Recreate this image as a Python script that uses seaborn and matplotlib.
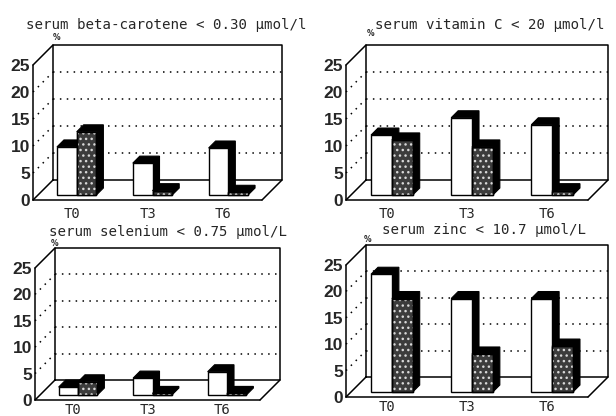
import matplotlib
matplotlib.use("Agg")
import matplotlib.pyplot as plt
from matplotlib import font_manager
from matplotlib.patches import Polygon, Rectangle
from matplotlib.lines import Line2D
import seaborn as sns
import pandas as pd

# ---- data -------------------------------------------------------------
times = ["T0", "T3", "T6"]
groups = ["A", "B"]
titles = [
    "serum beta-carotene < 0.30 \u03bcmol/l",
    "serum vitamin C < 20 \u03bcmol/l",
    "serum selenium < 0.75 \u03bcmol/L",
    "serum zinc < 10.7 \u03bcmol/L",
]
beta_carotene_a = [8.9, 5.9, 8.7]
beta_carotene_b = [11.7, 0.8, 0.5]
vitamin_c_a = [11.1, 14.3, 13.0]
vitamin_c_b = [10.2, 8.9, 0.8]
selenium_a = [1.5, 3.2, 4.4]
selenium_b = [2.5, 0.3, 0.3]
zinc_a = [22.3, 17.7, 17.7]
zinc_b = [17.7, 7.2, 8.7]
y_ticks = [0, 5, 10, 15, 20, 25]

panel_values = [
    (beta_carotene_a, beta_carotene_b),
    (vitamin_c_a, vitamin_c_b),
    (selenium_a, selenium_b),
    (zinc_a, zinc_b),
]

# ---- style ------------------------------------------------------------
sns.set_theme(style="white")
available = {f.name for f in font_manager.fontManager.ttflist}
tick_font = "Liberation Sans Narrow" if "Liberation Sans Narrow" in available else "Liberation Sans"
mono_font = "DejaVu Sans Mono"
plt.rcParams["font.family"] = [tick_font, "DejaVu Sans"]
plt.rcParams["hatch.linewidth"] = 1.0

W, H = 616, 416
fig = plt.figure(figsize=(W / 100, H / 100), dpi=100)

# front plane of each box in pixels: left, top, width, height
boxes = [(33, 65, 229, 135), (346, 65, 242, 135), (35, 268, 225, 132), (346, 265, 242, 132)]
title_pos = [(166, 25), (490, 25), (168, 232), (484, 230)]
pct_pos = [(57, 37), (371, 34), (55, 244), (368, 240)]
xtick_pad = [5, 5, 2, 2]

XLIM = (-0.51, 2.51)
DEPTH = 20      # px, depth of the box
SHIFT = 5       # px, bars stand a little behind the front plane
BAR_D = 7       # px, depth of each bar
colors = {"A": "white", "B": "#3c3c3c"}

for k, (vals_a, vals_b) in enumerate(panel_values):
    left, top, w, h = boxes[k]
    ax = fig.add_axes([left / W, 1 - (top + h) / H, w / W, h / H])
    df = pd.DataFrame({
        "time": times * 2,
        "group": [groups[0]] * 3 + [groups[1]] * 3,
        "value": list(vals_a) + list(vals_b),
    })
    sns.barplot(data=df, x="time", y="value", hue="group", order=times,
                hue_order=groups, palette=colors, edgecolor="black",
                linewidth=1.0, width=0.52, legend=False, ax=ax)
    ax.set_xlim(*XLIM)
    ax.set_ylim(y_ticks[0], y_ticks[-1])
    ux = (XLIM[1] - XLIM[0]) / w
    uy = (y_ticks[-1] - y_ticks[0]) / h
    x0, x1 = XLIM
    y0, y1 = y_ticks[0], y_ticks[-1]
    Dx, Dy = DEPTH * ux, DEPTH * uy

    # back wall, floor and side wall outline
    line_kw = dict(color="black", lw=1.1, clip_on=False, zorder=1.5)
    segs = [
        [(x0 + Dx, y0 + Dy), (x1 + Dx, y0 + Dy), (x1 + Dx, y1 + Dy), (x0 + Dx, y1 + Dy), (x0 + Dx, y0 + Dy)],
        [(x0, y0), (x1, y0)],
        [(x0, y0), (x0, y1)],
        [(x0, y1), (x0 + Dx, y1 + Dy)],
        [(x0, y0), (x0 + Dx, y0 + Dy)],
        [(x1, y0), (x1 + Dx, y0 + Dy)],
    ]
    for s in segs:
        xs, ys = zip(*s)
        ax.add_line(Line2D(xs, ys, **line_kw))
    dot_kw = dict(color="black", lw=1.1, ls=(0, (1, 3.5)), clip_on=False, zorder=1.2)
    for v in y_ticks[1:-1]:
        ax.add_line(Line2D([x0 + Dx, x1 + Dx], [v + Dy, v + Dy], **dot_kw))
        ax.add_line(Line2D([x0, x0 + Dx], [v, v + Dy], **dot_kw))

    # give every bar a solid black top and side; speckle the dark series
    for j, cont in enumerate(ax.containers):
        for bar in cont:
            bar.set_x(bar.get_x() + SHIFT * ux)
            bar.set_y(bar.get_y() + SHIFT * uy)
            bar.set_clip_on(False)
            bar.set_zorder(2.1 + j * 0.2)
            bx, by, bw, bh = bar.get_x(), bar.get_y(), bar.get_width(), bar.get_height()
            dx, dy = BAR_D * ux, BAR_D * uy
            poly = Polygon([(bx, by + bh), (bx + dx, by + bh + dy), (bx + bw + dx, by + bh + dy),
                            (bx + bw + dx, by + dy), (bx + bw, by), (bx + bw, by + bh)],
                           closed=True, facecolor="black", edgecolor="black", lw=0.8,
                           clip_on=False, zorder=2.0 + j * 0.2)
            ax.add_patch(poly)
            if j == 1:
                ax.add_patch(Rectangle((bx, by), bw, bh, fill=False, hatch="...",
                                       edgecolor="#d8d8d8", lw=0, clip_on=False,
                                       zorder=2.15 + j * 0.2))
                ax.add_patch(Rectangle((bx, by), bw, bh, fill=False,
                                       edgecolor="black", lw=1.0, clip_on=False,
                                       zorder=2.17 + j * 0.2))

    for sp in ax.spines.values():
        sp.set_visible(False)
    ax.patch.set_visible(False)
    ax.set_xlabel("")
    ax.set_ylabel("")
    ax.set_yticks(y_ticks)
    ax.set_yticklabels([str(t) for t in y_ticks], fontsize=12.5, fontweight="bold")
    ax.set_xticks(range(len(times)))
    ax.set_xticklabels(times, fontsize=10, family=mono_font)
    ax.tick_params(axis="y", length=0, pad=2)
    ax.tick_params(axis="x", length=0, pad=xtick_pad[k])

    tx, ty = title_pos[k]
    fig.text(tx / W, 1 - ty / H, titles[k], ha="center", va="center",
             family=mono_font, fontsize=10.2)
    px, py = pct_pos[k]
    fig.text(px / W, 1 - py / H, "%", ha="center", va="center",
             fontsize=5.5, fontweight="bold", family="DejaVu Sans")

fig.savefig("out.png", dpi=100)
